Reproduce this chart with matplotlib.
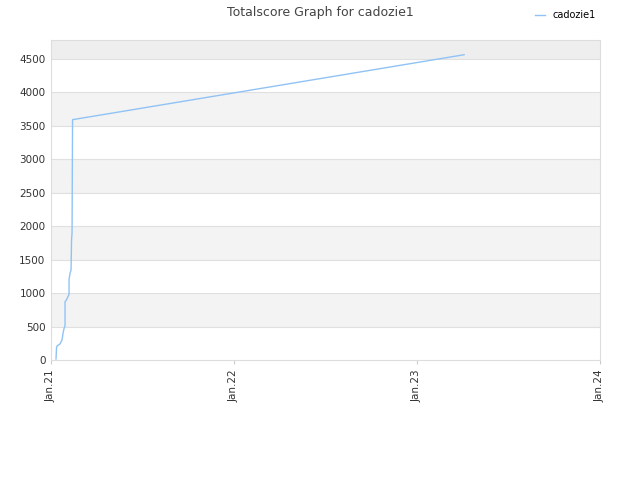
import numpy as np
import pandas as pd
import matplotlib
matplotlib.use("Agg")
import matplotlib.pyplot as plt
import matplotlib.dates as mdates

# Werte
dates = ["2021-01-11", "2021-01-12", "2021-01-13", "2021-01-19", "2021-01-23",
         "2021-01-25", "2021-01-27", "2021-01-29", "2021-01-29", "2021-02-01",
         "2021-02-04", "2021-02-06", "2021-02-06", "2021-02-08", "2021-02-10",
         "2021-02-11", "2021-02-12", "2021-02-13", "2023-04-05"]
scores = [15, 180, 210, 240, 300, 400, 470, 510, 870, 900,
          950, 980, 1200, 1300, 1340, 1800, 1900, 3590, 4560]

y_ticks = [0, 500, 1000, 1500, 2000, 2500, 3000, 3500, 4000, 4500]
x_ticks = ["2021-01-01", "2022-01-01", "2023-01-01", "2024-01-01"]
x_labels = ["Jan.21", "Jan.22", "Jan.23", "Jan.24"]

x = pd.to_datetime(dates)
ymax = 4780

fig = plt.figure(figsize=(6.4, 4.8), dpi=100)
ax = fig.add_axes([51 / 640, 120 / 480, 549 / 640, 320 / 480])

# Hintergrundbaender
for lo in range(500, 4500, 1000):
    ax.axhspan(lo, lo + 500, color="#f3f3f3", zorder=0, lw=0)
ax.axhspan(4500, ymax, color="#eeeeee", zorder=0, lw=0)
for t in y_ticks[1:]:
    ax.axhline(t, color="#e0e0e0", lw=0.8, zorder=1)

ax.plot(x, scores, color="#90c3f5", lw=1.0, label="cadozie1", zorder=3)

ax.set_ylim(0, ymax)
ax.set_xlim(pd.Timestamp(x_ticks[0]), pd.Timestamp(x_ticks[-1]))
ax.set_yticks(y_ticks)
ax.set_xticks(pd.to_datetime(x_ticks))
ax.set_xticklabels(x_labels, rotation=90)
ax.tick_params(axis="both", labelsize=7.5, colors="#333333", length=0, pad=4)
ax.tick_params(axis="x", length=3, color="#cccccc")
for s in ax.spines.values():
    s.set_color("#dddddd")

fig.text(0.5, 0.988, "Totalscore Graph for cadozie1", ha="center", va="top",
         fontsize=9, color="#444444")
ax.legend(loc="upper right", bbox_to_anchor=(1.0, 1.105), frameon=False,
          fontsize=7, handlelength=1.0, borderaxespad=0)

fig.savefig("out.png", dpi=100)
